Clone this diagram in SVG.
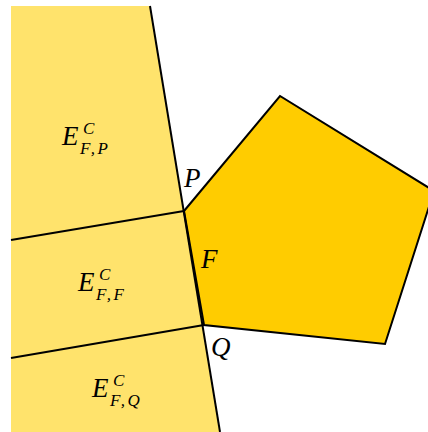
<svg xmlns="http://www.w3.org/2000/svg" width="428" height="432" viewBox="0 0 428 432">
<style>
.ln{fill:none;stroke:#000;stroke-width:2;stroke-linejoin:miter}
.m{font-family:"Liberation Serif","DejaVu Serif",serif;font-style:italic;fill:#000}
.big{font-size:27px}
.sm{font-size:17px}
.sub{font-size:17px;letter-spacing:2.5px}
</style>
<rect width="428" height="432" fill="#fff"/>
<g id="region">
<polygon points="11,6 150,6 220,432 11,432" fill="#FFE36C"/>
</g>
<g id="pentagon">
<polygon points="184,211 280,96 434,191 385,344 204,325" fill="#FFCC00" stroke="#000" stroke-width="2"/>
</g>
<g id="connectors">
<line class="ln" x1="150" y1="6" x2="220" y2="432"/>
<line class="ln" x1="11" y1="240" x2="184" y2="211"/>
<line class="ln" x1="11" y1="358" x2="204" y2="325"/>
</g>
<g id="EFP">
<text class="m big" x="62" y="145">E</text>
<text class="m sm" x="83" y="134">C</text>
<text class="m sub" x="80" y="154">F,P</text>
</g>
<g id="EFF">
<text class="m big" x="78" y="291">E</text>
<text class="m sm" x="99" y="280">C</text>
<text class="m sub" x="96" y="300">F,F</text>
</g>
<g id="EFQ">
<text class="m big" x="92" y="397">E</text>
<text class="m sm" x="113" y="386">C</text>
<text class="m sub" x="110" y="406">F,Q</text>
</g>
<g id="labels">
<text class="m big" x="184" y="187">P</text>
<text class="m big" x="201" y="268">F</text>
<text class="m big" x="211" y="356">Q</text>
</g>
</svg>
